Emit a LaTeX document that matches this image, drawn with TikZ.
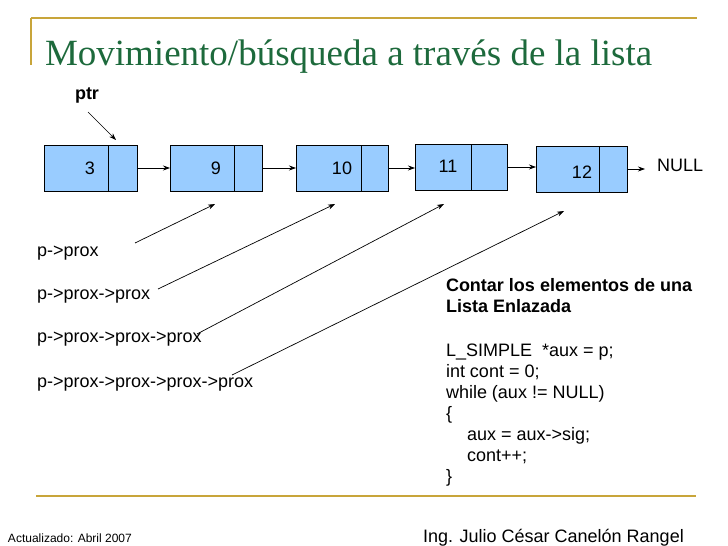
\documentclass[tikz,border=0pt]{standalone}
\usepackage{fontspec}
\setmainfont{Liberation Sans}
\newfontfamily\titlefont{Liberation Serif}
\usetikzlibrary{arrows.meta}
\definecolor{gold}{HTML}{C8A53A}
\definecolor{titlegreen}{HTML}{1D6A3C}
\definecolor{boxblue}{HTML}{99CCFF}
\begin{document}
\begin{tikzpicture}[x=1pt,y=-1pt,
 every node/.style={inner sep=0pt, outer sep=0pt},
 cell/.style={draw=black, fill=boxblue, line width=0.8pt, minimum height=46pt, anchor=north west},
 txt/.style={font=\fontsize{18}{21}\selectfont},
 arr/.style={-{Stealth[length=7pt,width=5pt]}, line width=0.7pt},
 goldline/.style={draw=gold, line width=2pt}
]
\fill[white] (0,0) rectangle (728,546);
\useasboundingbox (0,0) rectangle (728,546);

% frame lines
\draw[goldline] (31,18) -- (697,18);
\draw[goldline] (31,18) -- (31,65);
\draw[goldline] (36,496) -- (696,496);

% title
\node[anchor=base west, text=titlegreen, font=\titlefont\fontsize{37}{40}\selectfont] (title) at (45,65) {Movimiento/búsqueda a través de la lista};

% ptr
\node[txt, font=\fontsize{18}{21}\selectfont\bfseries] (ptr) at (87,95) {ptr};
\coordinate (ptrs) at (88,112);
\coordinate (ptre) at (116,140);
\draw[arr] (ptrs) -- (ptre);

% list nodes
\node[cell, minimum width=64pt] (d1) at (44,145) {};
\node[cell, minimum width=29pt] (p1) at (108,145) {};
\node[cell, minimum width=64pt] (d2) at (170,145) {};
\node[cell, minimum width=28pt] (p2) at (234,145) {};
\node[cell, minimum width=65pt] (d3) at (296,145) {};
\node[cell, minimum width=27pt] (p3) at (361,145) {};
\node[cell, minimum width=56pt] (d4) at (415,144) {};
\node[cell, minimum width=36pt] (p4) at (471,144) {};
\node[cell, minimum width=63pt] (d5) at (536,146) {};
\node[cell, minimum width=28pt] (p5) at (599,146) {};

\node[txt] (n1) at (90,168) {3};
\node[txt] (n2) at (216,168) {9};
\node[txt] (n3) at (342,168) {10};
\node[txt] (n4) at (448,166) {11};
\node[txt] (n5) at (582,172) {12};

\draw[arr] (p1.east) -- (d2.west);
\draw[arr] (p2.east) -- (d3.west);
\draw[arr] (p3.east) -- (d4.west |- p3.east);
\draw[arr] (p4.east) -- (d5.west |- p4.east);
\node[txt, anchor=base west] (null) at (657,171) {NULL};
\coordinate (nullend) at (645,169);
\draw[arr] (p5.east |- nullend) -- (nullend);

% labels
\node[txt, anchor=base west] (l1) at (37,256) {p->prox};
\node[txt, anchor=base west] (l2) at (37,299) {p->prox->prox};
\node[txt, anchor=base west] (l3) at (37,342) {p->prox->prox->prox};
\node[txt, anchor=base west] (l4) at (37,387) {p->prox->prox->prox->prox};

\coordinate (s1) at (135,243); \coordinate (e1) at (215,204);
\coordinate (s2) at (158,289); \coordinate (e2) at (335,204);
\coordinate (s3) at (197,334); \coordinate (e3) at (444,204);
\coordinate (s4) at (232,375); \coordinate (e4) at (564,211);
\draw[arr] (s1) -- (e1);
\draw[arr] (s2) -- (e2);
\draw[arr] (s3) -- (e3);
\draw[arr] (s4) -- (e4);

% code
\node[txt, anchor=base west, font=\fontsize{18}{21}\selectfont\bfseries] (c1) at (446,291) {Contar los elementos de una};
\node[txt, anchor=base west, font=\fontsize{18}{21}\selectfont\bfseries] (c2) at (446,312) {Lista Enlazada};
\node[txt, anchor=base west] (c3) at (446,356) {L\_SIMPLE\ \ *aux = p;};
\node[txt, anchor=base west] (c4) at (446,377) {int cont = 0;};
\node[txt, anchor=base west] (c5) at (446,398) {while (aux != NULL)};
\node[txt, anchor=base west] (c6) at (446,419) {\{};
\node[txt, anchor=base west] (c7) at (467,440) {aux = aux->sig;};
\node[txt, anchor=base west] (c8) at (467,461) {cont++;};
\node[txt, anchor=base west] (c9) at (446,482) {\}};

% footer
\node[anchor=base west, font=\fontsize{12}{14}\selectfont] (f1) at (8,542) {Actualizado: Abril 2007};
\node[txt, anchor=base west] (f2) at (423,542) {Ing. Julio César Canelón Rangel};
\end{tikzpicture}
\end{document}
